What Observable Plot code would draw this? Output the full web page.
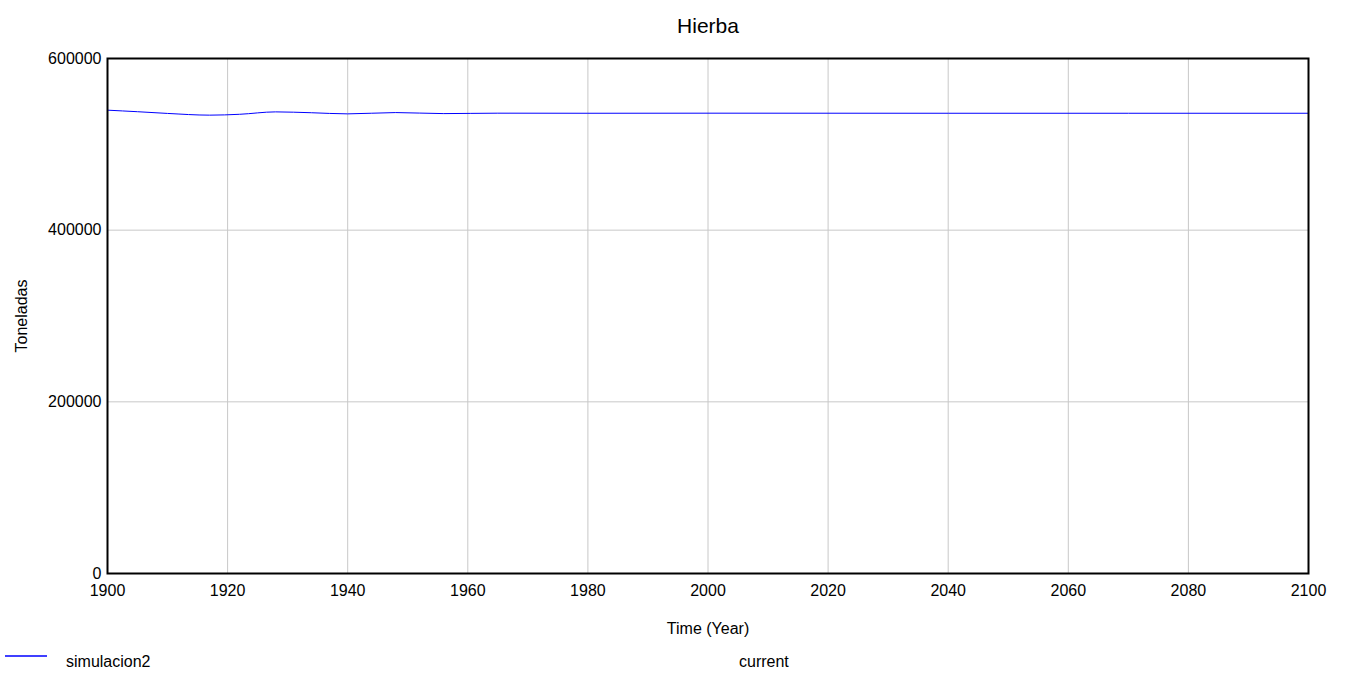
<!DOCTYPE html>
<html>
<head>
<meta charset="utf-8">
<script src="https://cdn.jsdelivr.net/npm/d3@7"></script>
<script src="https://cdn.jsdelivr.net/npm/@observablehq/plot@0.6"></script>
<style>
  body { margin: 0; background: #fff; font-family: Arial, "Liberation Sans", sans-serif; }
  #legend { position: relative; height: 30px; font-size: 16px; }
</style>
</head>
<body>
<div id="chart-display"></div>
<div id="legend">
  <svg style="position:absolute;left:5px;top:8px" width="42" height="6"><line x1="0" y1="3" x2="42" y2="3" stroke="blue" stroke-width="1.5"/></svg>
  <span style="position:absolute;left:66px;top:8px">simulacion2</span>
  <span style="position:absolute;left:739px;top:8px">current</span>
</div>
<script>
const years = [1900, 1905, 1910, 1917, 1922, 1928, 1934, 1940, 1948, 1956, 1965, 1980, 2000, 2040, 2100];
const hierba = [539800, 538000, 536000, 534000, 535000, 537800, 536800, 535500, 537000, 535800, 536300, 536200, 536300, 536200, 536200];
const xTicks = d3.range(1900, 2101, 20);
const yTicks = [0, 200000, 400000, 600000];

const data = years.map((t, i) => ({t, v: hierba[i]}));

const plot = Plot.plot({
  width: 1348,
  height: 645,
  marginLeft: 107,
  marginRight: 40,
  marginTop: 58,
  marginBottom: 72,
  style: {fontSize: "16px", fontFamily: "Arial, 'Liberation Sans', sans-serif", color: "#000"},
  x: {domain: [1900, 2100], ticks: xTicks, tickFormat: d => String(d), tickSize: 0, tickPadding: 11, label: "Time (Year)", labelArrow: "none", labelAnchor: "center", labelOffset: 60},
  y: {domain: [0, 600000], ticks: yTicks, tickFormat: d => String(d), tickSize: 0, tickPadding: 6, label: "Toneladas", labelArrow: "none", labelAnchor: "center", labelOffset: 92},
  marks: [
    Plot.gridX(xTicks, {stroke: "#c8c8c8", strokeOpacity: 1}),
    Plot.gridY(yTicks, {stroke: "#c8c8c8", strokeOpacity: 1}),
    Plot.line(data, {x: "t", y: "v", stroke: "blue", strokeWidth: 1, curve: "monotone-x"}),
    Plot.frame({stroke: "#000", strokeWidth: 2}),
    Plot.text(["Hierba"], {frameAnchor: "top", dy: -40, fontSize: 21})
  ]
});
document.querySelector("#chart-display").append(plot);
</script>
</body>
</html>
